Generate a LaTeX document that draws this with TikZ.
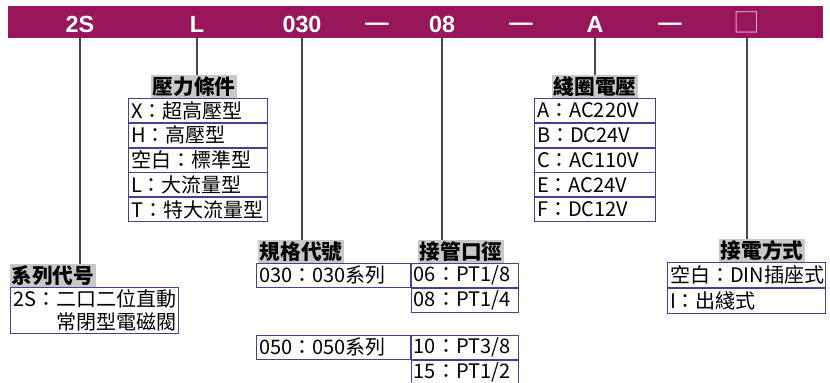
\documentclass[tikz,border=0pt]{standalone}
\usepackage{fontspec}
\setmainfont{Noto Sans CJK TC}
\newfontfamily\barfont{Liberation Sans}
\usetikzlibrary{positioning}

\definecolor{barred}{RGB}{152,22,90}
\definecolor{boxpink}{RGB}{245,160,210}
\definecolor{hdrgray}{RGB}{200,200,200}
\definecolor{tblue}{RGB}{72,62,152}
\definecolor{leadgray}{RGB}{70,70,70}

\begin{document}
\begin{tikzpicture}[x=0.75pt,y=-0.75pt,
		bar/.style={fill=barred, minimum width=611.25pt, minimum height=24pt, inner sep=0pt},
		code/.style={text=white, font=\barfont\fontsize{17.5}{18}\selectfont\bfseries, inner sep=0pt, anchor=base},
		hdr/.style={fill=hdrgray, font=\fontsize{15.5}{16}\selectfont\bfseries, minimum width=64pt, minimum height=17pt, inner sep=1pt},
		row/.style={draw=tblue, line width=0.6pt, anchor=north west, align=left, minimum height=18pt,
			inner xsep=2pt, inner ysep=0pt, font=\fontsize{15}{17}\selectfont},
		lead/.style={leadgray, line width=0.8pt}]
		\useasboundingbox (0,0) rectangle (830,382);

		% code bar
		\node[bar] (bar) at (415.5,22) {};
		\node[code] (c2S) at (80,32) {2S};
		\node[code] (cL) at (197,32) {L};
		\node[code] (c030) at (302,32) {030};
		\node[code] (d1) at (377,30) {—};
		\node[code] (c08) at (442,32) {08};
		\node[code] (d2) at (521,30) {—};
		\node[code] (cA) at (595,32) {A};
		\node[code] (d3) at (670,30) {—};
		\node[code, anchor=center, text=boxpink, font=\fontsize{20}{20}\selectfont] (cX) at (747,22.5) {□};

		% pressure
		\node[hdr, anchor=south] (hPress) at (194,98) {壓力條件};
		\node[row, text width=100.25pt] (p1) at (128,98) {X：超高壓型};
		\node[row, text width=100.25pt, below=0pt of p1] (p2) {H：高壓型};
		\node[row, text width=100.25pt, below=0pt of p2] (p3) {空白：標準型};
		\node[row, text width=100.25pt, below=0pt of p3] (p4) {L：大流量型};
		\node[row, text width=100.25pt, below=0pt of p4] (p5) {T：特大流量型};

		% coil voltage
		\node[hdr, anchor=south] (hCoil) at (595,98) {綫圈電壓};
		\node[row, text width=86.75pt] (v1) at (534,98) {A：AC220V};
		\node[row, text width=86.75pt, below=0pt of v1] (v2) {B：DC24V};
		\node[row, text width=86.75pt, below=0pt of v2] (v3) {C：AC110V};
		\node[row, text width=86.75pt, below=0pt of v3] (v4) {E：AC24V};
		\node[row, text width=86.75pt, below=0pt of v4] (v5) {F：DC12V};

		% series
		\node[hdr, anchor=south west] (hSeries) at (10,287) {系列代号};
		\node[row, text width=122pt, minimum height=34.5pt] (s1) at (10,287) {2S：二口二位直動\\\phantom{2S：}常閉型電磁閥};

		% size and port
		\node[hdr, anchor=south] (hSize) at (301,263) {規格代號};
		\node[hdr, anchor=south] (hPort) at (461,263) {接管口徑};
		\node[row, text width=111.5pt] (z1) at (256,263) {030：030系列};
		\node[row, text width=76.25pt, right=0pt of z1] (q1) {06：PT1/8};
		\node[row, text width=76.25pt, below=0pt of q1] (q2) {08：PT1/4};
		\node[row, text width=111.5pt] (z2) at (256,335) {050：050系列};
		\node[row, text width=76.25pt, right=0pt of z2] (q3) {10：PT3/8};
		\node[row, text width=76.25pt, below=0pt of q3] (q4) {15：PT1/2};

		% wiring
		\node[hdr, anchor=south] (hWire) at (762,262) {接電方式};
		\node[row, text width=114.5pt, minimum height=18.75pt] (w1) at (667,262) {空白：DIN插座式};
		\node[row, text width=114.5pt, minimum height=18.75pt, below=0pt of w1] (w2) {I：出綫式};

		% leads
		\draw[lead] (c2S |- bar.south) -- (c2S |- hSeries.north);
		\draw[lead] (cL |- bar.south) -- (cL |- hPress.north);
		\draw[lead] (c030 |- bar.south) -- (c030 |- hSize.north);
		\draw[lead] (c08 |- bar.south) -- (c08 |- hPort.north);
		\draw[lead] (cA |- bar.south) -- (cA |- hCoil.north);
		\draw[lead] (cX |- bar.south) -- (cX |- hWire.north);
	\end{tikzpicture}
\end{document}
